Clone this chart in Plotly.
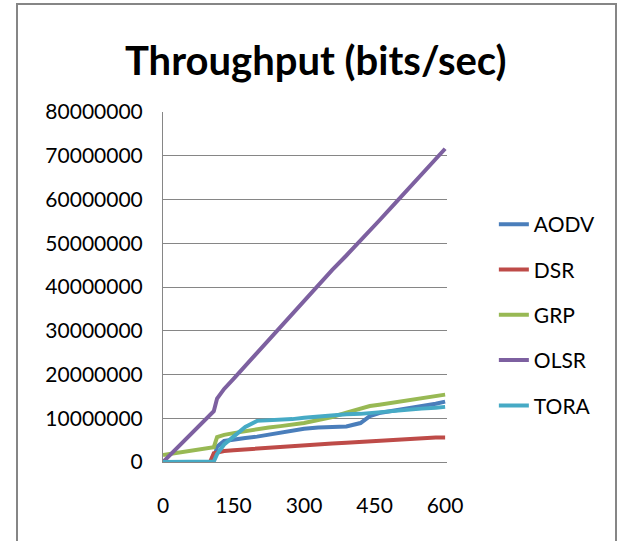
import plotly.graph_objects as go

x_time = [0, 20, 40, 60, 80, 100, 108, 115, 130, 150, 175, 200, 225, 250, 275, 300,
          330, 360, 390, 420, 440, 460, 490, 520, 550, 580, 600]

aodv = [0, 0, 0, 0, 0, 0, 0.5e6, 3.5e6, 4.8e6, 5.2e6, 5.5e6, 5.8e6, 6.3e6, 6.8e6, 7.2e6, 7.6e6,
        7.9e6, 8.0e6, 8.1e6, 8.9e6, 10.5e6, 11.2e6, 11.7e6, 12.2e6, 12.7e6, 13.3e6, 13.8e6]
dsr = [0, 0, 0, 0, 0, 0, 2.0e6, 2.2e6, 2.5e6, 2.7e6, 2.9e6, 3.1e6, 3.3e6, 3.5e6, 3.6e6, 3.9e6,
       4.0e6, 4.2e6, 4.4e6, 4.6e6, 4.8e6, 4.9e6, 5.2e6, 5.4e6, 5.6e6, 5.6e6, 5.6e6]
grp = [1.6e6, 1.9e6, 2.2e6, 2.5e6, 2.8e6, 3.1e6, 3.4e6, 5.7e6, 6.2e6, 6.6e6, 7.1e6, 7.5e6, 7.9e6,
       8.2e6, 8.5e6, 8.9e6, 9.6e6, 10.3e6, 11.3e6, 12.2e6, 12.8e6, 13.1e6, 13.6e6, 14.1e6,
       14.6e6, 15.1e6, 15.4e6]
olsr = [0, 2.15e6, 4.3e6, 6.45e6, 8.6e6, 10.75e6, 11.6e6, 14.5e6, 16.7e6, 19.0e6, 22.0e6,
        25.0e6, 28.0e6, 31.0e6, 34.0e6, 37.0e6, 40.6e6, 43.9e6, 47.2e6, 50.5e6, 52.8e6,
        55.2e6, 58.7e6, 62.3e6, 65.9e6, 69.5e6, 71.6e6]
tora = [0, 0, 0, 0, 0, 0, 0.1e6, 1.8e6, 4.0e6, 5.8e6, 8.0e6, 9.4e6, 9.5e6, 9.6e6, 9.8e6, 10.1e6,
        10.4e6, 10.7e6, 10.9e6, 11.0e6, 11.2e6, 11.5e6, 11.8e6, 12.0e6, 12.2e6, 12.4e6, 12.6e6]

series = [("AODV", aodv, "#4A7EBB"), ("DSR", dsr, "#BE4B48"), ("GRP", grp, "#98B954"),
          ("OLSR", olsr, "#7D60A0"), ("TORA", tora, "#46AAC5")]

x_ticks = [0, 150, 300, 450, 600]
y_ticks = [0, 10000000, 20000000, 30000000, 40000000, 50000000, 60000000, 70000000, 80000000]

FONT = "Lato"

fig = go.Figure()
for name, vals, col in series:
    fig.add_trace(go.Scatter(x=x_time, y=vals, name=name, mode="lines", legendgroup=name,
                             line=dict(color=col, width=4)))

fig.update_layout(
    width=619, height=541,
    margin=dict(l=163, r=172, t=112, b=79),
    paper_bgcolor="white", plot_bgcolor="white",
    font=dict(family=FONT, size=21, color="#000000"),
    title=dict(text="<b>Throughput (bits/sec)</b>", x=0.51, xref="container", xanchor="center",
               y=1 - 61 / 541, yanchor="middle", yref="container",
               font=dict(family=FONT, size=40, color="#000000")),
    showlegend=True,
    legend=dict(x=1.165, xanchor="left", y=0.737, yanchor="top", tracegroupgap=15,
                font=dict(family=FONT, size=21), bgcolor="rgba(0,0,0,0)"),
    xaxis=dict(range=[0, 604], tickvals=x_ticks, ticktext=[str(v) for v in x_ticks],
               showgrid=False, zeroline=False, showline=True, linecolor="#868686", linewidth=1,
               ticks="", ticklabelstandoff=25),
    yaxis=dict(range=[0, 80000000], tickvals=y_ticks, ticktext=[str(v) for v in y_ticks],
               showgrid=True, gridcolor="#868686", gridwidth=1, zeroline=False,
               showline=True, linecolor="#868686", linewidth=1, ticks="", ticklabelstandoff=15),
    shapes=[dict(type="rect", xref="paper", yref="paper",
                 x0=(17 - 163) / 284, x1=(616 - 163) / 284,
                 y0=(462 - 560) / 350, y1=(462 - 4) / 350,
                 line=dict(color="#868686", width=2), fillcolor="rgba(0,0,0,0)", layer="below")],
)

fig.write_html("out.html")
